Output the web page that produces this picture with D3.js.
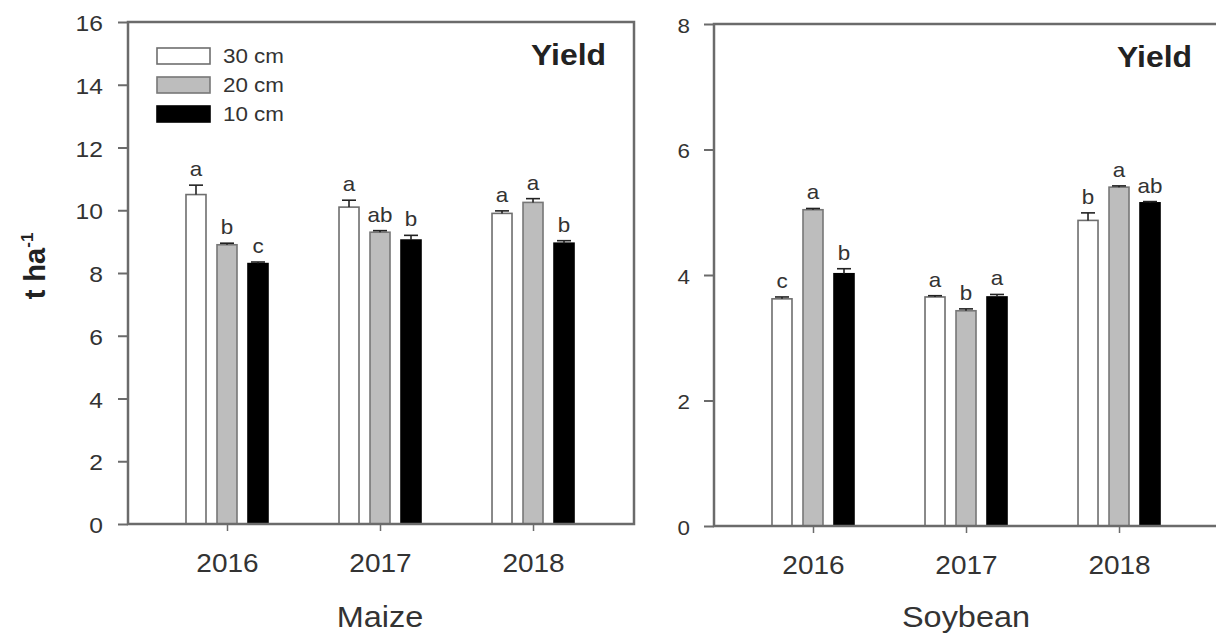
<!DOCTYPE html>
<html>
<head>
<meta charset="utf-8">
<script src="https://cdn.jsdelivr.net/npm/d3@7"></script>
<style>
  body { margin: 0; background: #fff; }
  svg { display: block; font-family: Arial, 'Liberation Sans', sans-serif; }
</style>
</head>
<body>
<svg id="chart" width="1216" height="642"></svg>
<script>
// data
const years = [2016, 2017, 2018];
const depths = ['30 cm', '20 cm', '10 cm'];
const fills = ['#ffffff', '#bdbdbd', '#000000'];
const strokes = ['#6e6e6e', '#777777', '#000000'];

// rows = depth (30, 20, 10 cm), columns = year
const maizeMeans = [[10.5, 10.1, 9.9], [8.9, 9.3, 10.25], [8.3, 9.05, 8.95]];
const maizeErr = [[0.3, 0.22, 0.08], [0.05, 0.05, 0.12], [0.05, 0.15, 0.08]];
const maizeLetters = [['a', 'a', 'a'], ['b', 'ab', 'a'], ['c', 'b', 'b']];
const maizeTicks = [0, 2, 4, 6, 8, 10, 12, 14, 16];

const soyMeans = [[3.62, 3.65, 4.87], [5.04, 3.43, 5.4], [4.02, 3.65, 5.15]];
const soyErr = [[0.03, 0.02, 0.12], [0.02, 0.03, 0.02], [0.08, 0.04, 0.02]];
const soyLetters = [['c', 'a', 'b'], ['a', 'b', 'a'], ['b', 'a', 'ab']];
const soyTicks = [0, 2, 4, 6, 8];

const svg = d3.select('#chart');
const frameColor = '#6b6b6b';
const textColor = '#333';
const sx = 1.12; // the source figure is stretched sideways a bit

function stretchText(sel, x, y, k) {
  sel.attr('transform', `translate(${x},${y}) scale(${k || sx},1)`);
}

function drawPanel(opt) {
  const g = svg.append('g');
  const x = d3.scaleLinear().domain([2015.353, 2018.66]).range([opt.left, opt.left + 506]);
  const y = d3.scaleLinear().domain([0, opt.max]).range([opt.bottom, opt.top]);
  const offsets = [-31, 0, 31];
  const barW = 20;

  // bars
  opt.means.forEach((row, di) => {
    g.append('g').selectAll('rect')
      .data(row)
      .enter().append('rect')
      .attr('x', (d, i) => x(years[i]) + offsets[di] - barW / 2)
      .attr('y', d => y(d))
      .attr('width', barW)
      .attr('height', d => y(0) - y(d))
      .attr('fill', fills[di])
      .attr('stroke', strokes[di])
      .attr('stroke-width', 1.6);

    // upper error bars
    const eb = g.append('g').attr('stroke', '#222').attr('stroke-width', 1.6);
    row.forEach((d, i) => {
      const cx = x(years[i]) + offsets[di];
      const yt = y(d + opt.err[di][i]);
      eb.append('line').attr('x1', cx).attr('x2', cx).attr('y1', y(d)).attr('y2', yt);
      eb.append('line').attr('x1', cx - 7).attr('x2', cx + 7).attr('y1', yt).attr('y2', yt);
      g.append('text')
        .text(opt.letters[di][i])
        .attr('text-anchor', 'middle')
        .style('font-size', '20px')
        .attr('fill', textColor)
        .call(stretchText, cx, yt - 9);
    });
  });

  // y axis
  const ya = g.append('g')
    .attr('transform', `translate(${opt.left},0)`)
    .call(d3.axisLeft(y).tickValues(opt.ticks).tickSize(10).tickFormat(d3.format('d')));
  ya.select('.domain').remove();
  ya.selectAll('line').attr('stroke', frameColor).attr('stroke-width', 2);
  ya.selectAll('text')
    .attr('x', null).attr('dy', null)
    .attr('fill', textColor)
    .style('font-size', opt.tickFont + 'px')
    .attr('text-anchor', 'end')
    .attr('dominant-baseline', 'central')
    .attr('transform', `translate(${-opt.labelGap},1) scale(${sx},1)`);

  // x axis
  const xa = g.append('g')
    .attr('transform', `translate(0,${opt.bottom})`)
    .call(d3.axisBottom(x).tickValues(years).tickSize(7).tickFormat(d3.format('d')));
  xa.select('.domain').remove();
  xa.selectAll('line').attr('stroke', frameColor).attr('stroke-width', 1.5);
  xa.selectAll('text')
    .attr('y', null).attr('dy', null)
    .attr('fill', textColor)
    .style('font-size', '25px')
    .attr('transform', `translate(0,48) scale(${sx},1)`);

  // frame
  g.append('path')
    .attr('d', `M${opt.left},${opt.top}H${opt.left + 506}V${opt.bottom}H${opt.left}Z`)
    .attr('fill', 'none')
    .attr('stroke', frameColor)
    .attr('stroke-width', 2.5);

  // labels
  g.append('text').text('Yield')
    .attr('text-anchor', 'end')
    .style('font-size', '29px').style('font-weight', 'bold')
    .attr('fill', '#222')
    .call(stretchText, opt.left + 478, opt.top + 43, 1.1);

  g.append('text').text(opt.title)
    .attr('text-anchor', 'middle')
    .style('font-size', '29px')
    .attr('fill', textColor)
    .call(stretchText, x(2017), 627);

  return g;
}

const left = drawPanel({
  left: 128, top: 22, bottom: 524, max: 16,
  means: maizeMeans, err: maizeErr, letters: maizeLetters, ticks: maizeTicks,
  title: 'Maize', tickFont: 22, labelGap: 25
});

drawPanel({
  left: 714, top: 24, bottom: 526, max: 8,
  means: soyMeans, err: soyErr, letters: soyLetters, ticks: soyTicks,
  title: 'Soybean', tickFont: 20, labelGap: 24
});

// legend (maize panel)
const legend = left.append('g');
depths.forEach((name, i) => {
  const ly = 48 + i * 29;
  legend.append('rect')
    .attr('x', 157).attr('y', ly)
    .attr('width', 53).attr('height', 16)
    .attr('fill', fills[i])
    .attr('stroke', strokes[i])
    .attr('stroke-width', 1.6);
  legend.append('text').text(name)
    .style('font-size', '20px')
    .attr('fill', textColor)
    .attr('dominant-baseline', 'central')
    .call(stretchText, 223, ly + 8);
});

// y axis title
const yt = svg.append('text')
  .attr('transform', 'translate(45,266) rotate(-90)')
  .attr('text-anchor', 'middle')
  .style('font-size', '29px')
  .style('font-weight', 'bold')
  .attr('fill', '#222');
yt.append('tspan').text('t ha');
yt.append('tspan').text('-1').attr('dy', -12).style('font-size', '17px');
</script>
</body>
</html>
